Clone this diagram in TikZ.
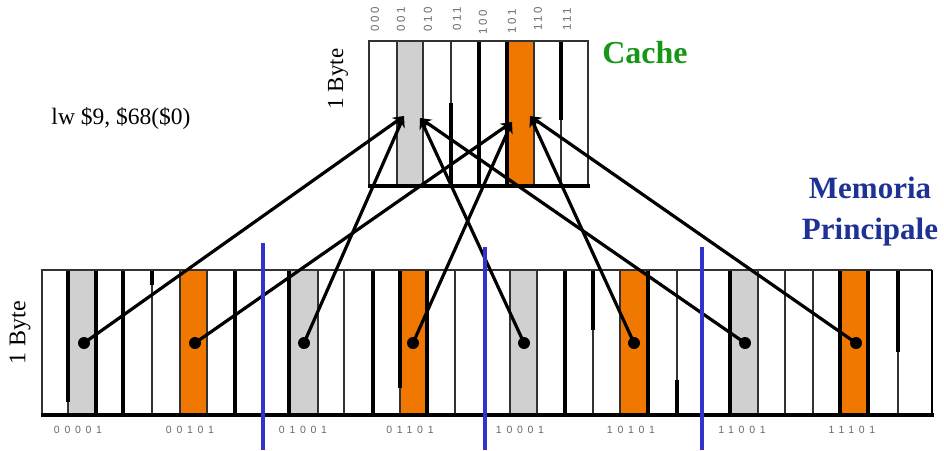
\documentclass[tikz,border=0pt]{standalone}
\usepackage{fontspec}
\setmainfont{Liberation Serif}
\newfontfamily\memlabfont[LetterSpace=45]{Liberation Sans}
\newfontfamily\cachelabfont[LetterSpace=22]{Liberation Sans}
\usetikzlibrary{arrows.meta}

\definecolor{slotgray}{RGB}{208,208,208}
\definecolor{slotorange}{RGB}{240,120,0}
\definecolor{cachegreen}{RGB}{24,150,24}
\definecolor{memblue}{RGB}{30,50,150}
\definecolor{splitblue}{RGB}{50,50,205}
\definecolor{labgray}{RGB}{105,105,105}
\definecolor{thinline}{RGB}{50,50,50}

\tikzset{
  thindiv/.style={draw=thinline, line width=1.5pt},
  thickdiv/.style={draw=black, line width=3.4pt},
  frame/.style={draw=thinline, line width=1.6pt},
  link/.style={draw=black, line width=3.2pt, -{Stealth[length=11pt,width=11pt]}},
  memdot/.style={circle, fill=black, inner sep=0pt, minimum size=12pt},
  split/.style={draw=splitblue, line width=4pt},
  addrlab/.style={font=\memlabfont\fontsize{10.5}{11}\selectfont, text=labgray, inner sep=0pt},
  setlab/.style={font=\cachelabfont\fontsize{11.5}{12}\selectfont, text=labgray, inner sep=0pt, rotate=90},
  bytelab/.style={rotate=90, inner sep=0pt}
}

\begin{document}
\begin{tikzpicture}[x=1pt, y=-1pt]
\useasboundingbox (0,0) rectangle (944,450);

% ---------------- main memory: 32 one-byte slots ----------------
\foreach \a/\b in {68/96, 289/318, 510/537, 730/758}
  \fill[slotgray] (\a,270) rectangle (\b,415);
\foreach \a/\b in {180/207, 400/427, 620/648, 840/868}
  \fill[slotorange] (\a,270) rectangle (\b,415);
\foreach \x in {68,96,123,152,180,207,235,263,289,318,344,373,400,427,455,
                485,510,537,565,593,620,648,677,702,730,758,785,813,840,868,898}
  \draw[thindiv] (\x,270) -- (\x,415);
\foreach \x/\ya/\yb in {68/270/402, 96/270/415, 123/270/415, 152/270/285,
                        235/270/415, 289/270/415, 373/270/415, 400/270/388,
                        427/270/415, 565/270/415, 593/270/330, 648/270/415,
                        677/380/415, 730/270/415, 840/270/415, 868/270/415,
                        898/270/352}
  \draw[thickdiv] (\x,\ya) -- (\x,\yb);
\draw[frame] (932,415) -- (42,415) -- (42,270) -- (932,270);
\draw[thickdiv] (40.5,415) -- (933.5,415);
\draw[draw=black, line width=2.4pt] (932,270) -- (932,415);

% slot addresses
\foreach \x/\t in {78/00001, 190/00101, 303/01001, 410/01101,
                   520/10001, 631/10101, 742/11001, 852/11101}
  \node[addrlab] (addr\t) at (\x,430) {\t};

% ---------------- cache: 8 one-byte lines ----------------
\fill[slotgray] (397,41) rectangle (423,186);
\fill[slotorange] (507,41) rectangle (534,186);
\foreach \x in {397,423,451,479,507,534,561}
  \draw[thindiv] (\x,41) -- (\x,186);
\foreach \x/\ya/\yb in {451/103/186, 479/41/186, 507/41/186, 561/41/120}
  \draw[thickdiv] (\x,\ya) -- (\x,\yb);
\draw[frame] (369,186) -- (369,41) -- (588,41) -- (588,186);
\draw[thickdiv] (367.5,186) -- (589.5,186);

% cache indices
\foreach \x/\y/\t in {375/19/000, 401/19/001, 428/19/010, 457/19/011,
                      483/22/100, 512/21/101, 538/19/110, 567/19/111}
  \node[setlab] (set\t) at (\x,\y) {\t};

% ---------------- mapping of memory slots onto cache lines ----------------
\coordinate (cA) at (404,116);
\coordinate (cB) at (420,118);
\coordinate (cC) at (512,122);
\coordinate (cD) at (530,116);

\foreach \n/\x in {1/84, 2/195, 3/304, 4/413, 5/524, 6/634, 7/745, 8/856}
  \node[memdot] (m\n) at (\x,343) {};

\draw[link] (m1.center) -- (cA);
\draw[link] (m3.center) -- (cA);
\draw[link] (m5.center) -- (cB);
\draw[link] (m7.center) -- (cB);
\draw[link] (m2.center) -- (cC);
\draw[link] (m4.center) -- (cC);
\draw[link] (m6.center) -- (cD);
\draw[link] (m8.center) -- (cD);

% block boundaries
\draw[split] (263,243) -- (263,450);
\draw[split] (485,247) -- (485,450);
\draw[split] (702,247) -- (702,450);

% ---------------- texts ----------------
\node[text=cachegreen, font=\fontsize{32}{32}\selectfont\bfseries] (cachetitle) at (645,53) {Cache};
\node[text=memblue, align=center, font=\fontsize{31}{41}\selectfont\bfseries] (memtitle) at (870,212) {Memoria\\Principale};
\node[font=\fontsize{23.5}{24}\selectfont] (instr) at (121,118) {lw \$9, \$68(\$0)};
\node[bytelab, font=\fontsize{23}{24}\selectfont] (cachebyte) at (338,79) {1 Byte};
\node[bytelab, font=\fontsize{24}{24}\selectfont] (membyte) at (20,333) {1 Byte};
\end{tikzpicture}
\end{document}
